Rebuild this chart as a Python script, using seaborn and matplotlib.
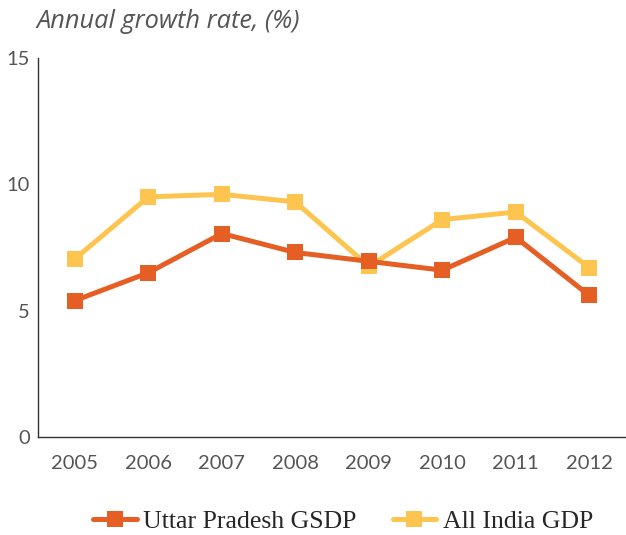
import pandas as pd
import matplotlib
matplotlib.use("Agg")
import matplotlib.pyplot as plt
import seaborn as sns

years = [2005, 2006, 2007, 2008, 2009, 2010, 2011, 2012]
up_gsdp = [5.4, 6.5, 8.05, 7.3, 6.95, 6.6, 7.9, 5.6]
india_gdp = [7.05, 9.5, 9.6, 9.3, 6.75, 8.6, 8.9, 6.7]
series_names = ["Uttar Pradesh GSDP", "All India GDP"]
colors = ["#E55E24", "#FDC44F"]

df = pd.DataFrame({
    "year": years * 2,
    "value": up_gsdp + india_gdp,
    "series": [series_names[0]] * len(years) + [series_names[1]] * len(years),
})

sns.set_style("white")
plt.rcParams["font.family"] = ["Lato", "DejaVu Sans"]

fig = plt.figure(figsize=(6.26, 5.35), dpi=100)
ax = fig.add_axes([0.061, 0.183, 0.939, 0.709])

# draw India first so UP sits on top
for name, col in zip(series_names[::-1], colors[::-1]):
    sns.lineplot(data=df[df["series"] == name], x="year", y="value",
                 color=col, marker="s", markersize=11.5, markeredgewidth=0,
                 linewidth=3.6, ax=ax, label=name, legend=False)

ax.set_xlim(2004.5, 2012.5)
ax.set_ylim(0, 15)
ax.set_yticks([0, 5, 10, 15])
ax.set_xticks(years)
ax.set_xticklabels([str(y) for y in years])
ax.set_xlabel("")
ax.set_ylabel("")
for s in ["top", "right"]:
    ax.spines[s].set_visible(False)
for s in ["left", "bottom"]:
    ax.spines[s].set_color("#333333")
    ax.spines[s].set_linewidth(1.0)
ax.tick_params(axis="both", length=0, labelsize=14.5, labelcolor="#555555")
ax.tick_params(axis="x", pad=13)
ax.tick_params(axis="y", pad=6)

fig.text(0.058, 0.96, "Annual growth rate, (%)", fontsize=18.3, style="italic",
         color="#555555", family=["Open Sans", "DejaVu Sans"], va="center")

handles, labels = ax.get_legend_handles_labels()
order = [labels.index(n) for n in series_names]
fig.legend([handles[i] for i in order], [labels[i] for i in order],
           loc="center", bbox_to_anchor=(0.548, 0.026), ncol=2, frameon=False,
           prop={"family": "Liberation Serif", "size": 18.5},
           handlelength=1.7, columnspacing=1.4, handletextpad=0.25)

fig.savefig("out.png", dpi=100)
